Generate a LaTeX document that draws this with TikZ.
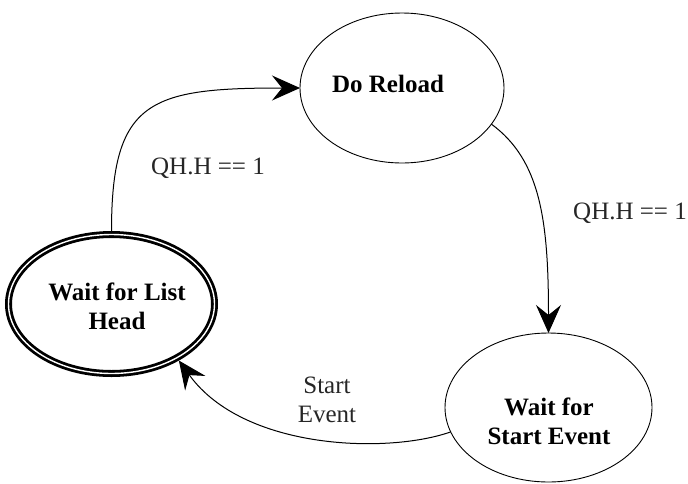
\documentclass[tikz,border=0pt]{standalone}
\usepackage{fontspec}
\setmainfont{Liberation Serif}
\usetikzlibrary{shapes.geometric,arrows.meta}
\tikzset{
  state/.style={ellipse, draw, line width=0.9pt, fill=white, inner sep=0pt, outer sep=0pt},
  initstate/.style={ellipse, draw, line width=2.8pt, double=white, double distance=1.4pt, fill=white, inner sep=0pt, outer sep=3.5pt},
  statetext/.style={font=\fontsize{25}{29}\selectfont\bfseries, align=center, inner sep=0pt},
  edgetext/.style={font=\fontsize{25}{29}\selectfont, align=center, inner sep=0pt, text=black!85},
  trans/.style={draw, line width=1pt, -{Stealth[length=28pt, width=25pt, inset=10pt]}}
}
\begin{document}
\begin{tikzpicture}[x=1pt, y=-1pt]
\useasboundingbox (0,0) rectangle (688,483);
\node[state, minimum width=204pt, minimum height=150pt] (dr) at (402,88) {};
\node[statetext] (drt) at (388,84) {Do Reload};
\node[initstate, minimum width=206pt, minimum height=139pt] (wl) at (111.5,304) {};
\node[statetext] (wlt) at (117,306) {Wait for List\\Head};
\node[state, minimum width=207pt, minimum height=149pt] (ws) at (548.5,407.5) {};
\node[statetext] (wst) at (549,421) {Wait for\\Start Event};

\node[edgetext] (l1) at (208,168) {QH.H == 1};
\node[edgetext] (l2) at (630,213) {QH.H == 1};
\node[edgetext] (l3) at (327,400) {Start\\Event};

\draw[trans] (wl.north) .. controls +(0,-131) and +(-150,0) .. (dr.west);
\draw[trans] (dr.-22) .. controls +(49,36) and +(0,-113) .. (ws.north);
\draw[trans] (ws.194) .. controls +(-62,22) and +(65,90) .. (wl.-40);
\end{tikzpicture}
\end{document}
